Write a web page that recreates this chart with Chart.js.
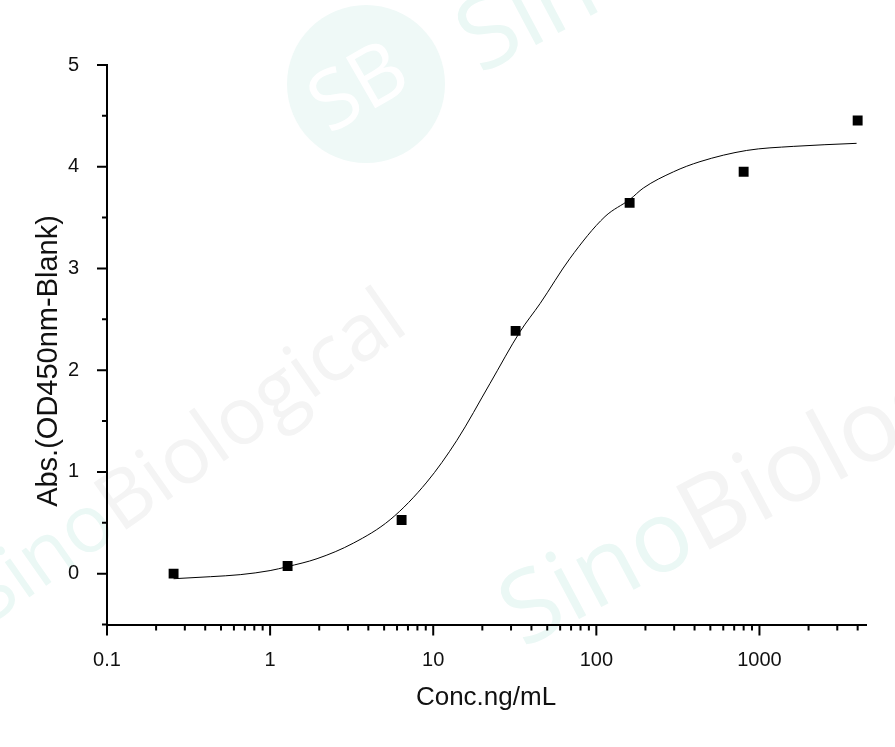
<!DOCTYPE html>
<html>
<head>
<meta charset="utf-8">
<script src="https://cdn.jsdelivr.net/npm/chart.js@4.4.1/dist/chart.umd.min.js"></script>
<style>
  html, body { margin: 0; padding: 0; background: #fff; }
  #wrap { width: 895px; height: 747px; }
</style>
</head>
<body>
<div id="wrap"><canvas id="graph" width="895" height="747"></canvas></div>
<script>
(function () {
    'use strict'

    // measured points (conc in ng/mL, absorbance)
    const concPoints = [0.256, 1.28, 6.4, 32, 160, 800, 4000];
    const absPoints = [0.00, 0.075, 0.527, 2.386, 3.645, 3.95, 4.455];

    // fitted curve
    const fitConc = [0.256, 0.43, 0.656, 1.0, 1.27, 1.94, 3.24, 5.44, 9.14, 13.96, 22.3,
        34.1, 45.2, 69, 113, 161, 194, 297, 432, 835, 1611, 3940];
    const fitAbs = [-0.05, -0.03, -0.01, 0.03, 0.068, 0.147, 0.30, 0.53, 0.90, 1.31, 1.87,
        2.38, 2.655, 3.10, 3.51, 3.68, 3.79, 3.95, 4.05, 4.16, 4.20, 4.23];

    const xTickLabels = [0.1, 1, 10, 100, 1000];
    const yTickLabels = [0, 1, 2, 3, 4, 5];
    const yMinorTicks = [-0.5, 0.5, 1.5, 2.5, 3.5, 4.5];
    const xMin = 0.1, xMax = 4500, yMin = -0.5, yMax = 5;

    let xMinorTicks = [];
    xTickLabels.forEach(function (d) {
        for (let m = 2; m <= 9; m++) {
            if (d * m < xMax) xMinorTicks.push(d * m);
        }
    });

    const FONT = '"Liberation Sans", Arial, sans-serif';

    const watermark = {
        id: 'watermark',
        beforeDraw(chart) {
            const ctx = chart.ctx;
            ctx.save();
            ctx.fillStyle = '#fff';
            ctx.fillRect(0, 0, chart.width, chart.height);

            // SB logo
            ctx.fillStyle = '#eff9f7';
            ctx.beginPath();
            ctx.arc(366, 84, 79, 0, Math.PI * 2);
            ctx.fill();
            ctx.save();
            ctx.translate(360, 90);
            ctx.rotate(-30 * Math.PI / 180);
            ctx.fillStyle = '#fff';
            ctx.font = '82px "Open Sans", sans-serif';
            ctx.textAlign = 'center';
            ctx.textBaseline = 'middle';
            ctx.fillText('SB', 0, 0);
            ctx.restore();

            function mark(x, y, deg, size) {
                ctx.save();
                ctx.translate(x, y);
                ctx.rotate(deg * Math.PI / 180);
                ctx.font = size + 'px "Open Sans", sans-serif';
                ctx.textBaseline = 'alphabetic';
                ctx.textAlign = 'right';
                ctx.fillStyle = '#ebf8f5';
                ctx.fillText('Sino', 0, 0);
                ctx.textAlign = 'left';
                ctx.fillStyle = '#f4f4f4';
                ctx.fillText('Biological', 0, 0);
                ctx.restore();
            }
            mark(120, 534, -35, 80);
            mark(701, 554, -28, 100);
            mark(658, -20, -28, 100);
            ctx.restore();
        }
    };

    const axisMarks = {
        id: 'axisMarks',
        afterDraw(chart) {
            const ctx = chart.ctx;
            const xs = chart.scales.x, ys = chart.scales.y;
            const area = chart.chartArea;
            ctx.save();
            ctx.strokeStyle = '#000';
            ctx.lineWidth = 2;
            ctx.beginPath();
            yTickLabels.forEach(function (v) {
                const p = ys.getPixelForValue(v);
                ctx.moveTo(area.left, p); ctx.lineTo(area.left - 10, p);
            });
            yMinorTicks.forEach(function (v) {
                const p = ys.getPixelForValue(v);
                ctx.moveTo(area.left, p); ctx.lineTo(area.left - 5, p);
            });
            xTickLabels.forEach(function (v) {
                const p = xs.getPixelForValue(v);
                ctx.moveTo(p, area.bottom); ctx.lineTo(p, area.bottom + 11);
            });
            xMinorTicks.forEach(function (v) {
                const p = xs.getPixelForValue(v);
                ctx.moveTo(p, area.bottom); ctx.lineTo(p, area.bottom + 6);
            });
            ctx.stroke();

            // axis titles
            ctx.fillStyle = '#111';
            ctx.textAlign = 'center';
            ctx.textBaseline = 'alphabetic';
            ctx.font = '26px ' + FONT;
            ctx.fillText('Conc.ng/mL', 486, 705);
            ctx.translate(57, 361);
            ctx.rotate(-Math.PI / 2);
            ctx.font = '29px ' + FONT;
            ctx.fillText('Abs.(OD450nm-Blank)', 0, 0);
            ctx.restore();
        }
    };

    let ctx = document.getElementById('graph');
    new Chart(ctx, {
        data: {
            datasets: [{
                type: 'line',
                label: 'Fit',
                data: fitConc.map(function (c, i) { return {x: c, y: fitAbs[i]}; }),
                borderColor: '#000',
                borderWidth: 1,
                pointRadius: 0,
                cubicInterpolationMode: 'monotone',
                fill: false
            }, {
                type: 'scatter',
                label: 'Data',
                data: concPoints.map(function (c, i) { return {x: c, y: absPoints[i]}; }),
                pointStyle: 'rect',
                pointRadius: 7,
                pointHoverRadius: 7,
                backgroundColor: '#000',
                borderColor: '#000',
                borderWidth: 0
            }]
        },
        options: {
            responsive: false,
            animation: false,
            layout: { padding: { top: 65, right: 29, left: 0, bottom: 0 } },
            plugins: {
                legend: { display: false },
                tooltip: { enabled: false }
            },
            scales: {
                x: {
                    type: 'logarithmic',
                    min: xMin,
                    max: xMax,
                    grid: { display: false },
                    border: { display: true, color: '#000', width: 2 },
                    afterBuildTicks: function (s) {
                        s.ticks = xTickLabels.map(function (v) { return {value: v}; });
                    },
                    afterFit: function (s) { s.height = 122.5; },
                    ticks: {
                        autoSkip: false,
                        maxRotation: 0,
                        padding: 16,
                        color: '#111',
                        font: { family: FONT, size: 20 },
                        callback: function (v) { return String(v); }
                    }
                },
                y: {
                    type: 'linear',
                    min: yMin,
                    max: yMax,
                    grid: { display: false },
                    border: { display: true, color: '#000', width: 2 },
                    afterBuildTicks: function (s) {
                        s.ticks = yTickLabels.map(function (v) { return {value: v}; });
                    },
                    afterFit: function (s) { s.width = 107; },
                    ticks: {
                        padding: 20,
                        color: '#111',
                        font: { family: FONT, size: 20 },
                        callback: function (v) { return String(v); }
                    }
                }
            }
        },
        plugins: [watermark, axisMarks]
    });
})()
</script>
</body>
</html>
